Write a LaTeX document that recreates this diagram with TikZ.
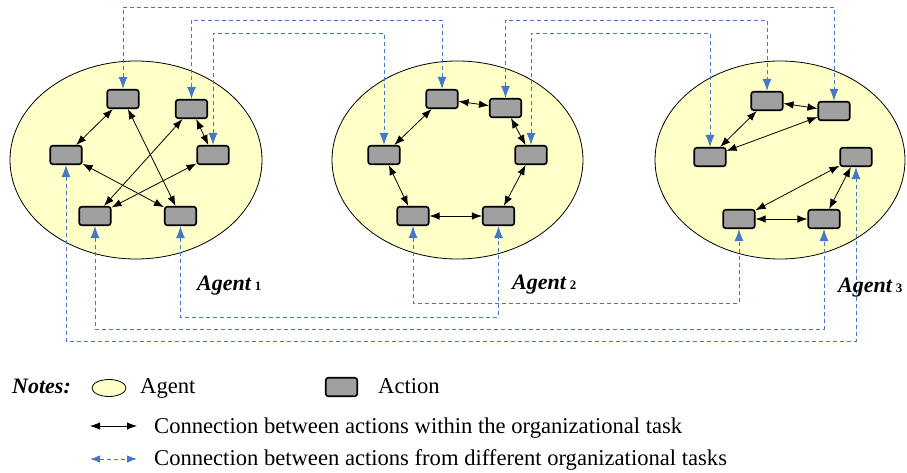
\documentclass[tikz,border=0pt]{standalone}
\usepackage{fontspec}
\setmainfont{Liberation Serif}
\usetikzlibrary{arrows.meta,shapes.geometric}
\definecolor{agentfill}{RGB}{255,255,200}
\definecolor{actfill}{RGB}{160,160,160}
\definecolor{linkblue}{RGB}{70,120,200}
\begin{document}
\begin{tikzpicture}[x=1pt,y=-1pt,
 agentnode/.style={ellipse,draw=black,line width=0.8pt,fill=agentfill,inner sep=0pt},
 act/.style={draw=black,line width=1.6pt,fill=actfill,rounded corners=2.5pt,minimum width=31.5pt,minimum height=18.5pt,inner sep=0pt},
 within/.style={{Latex[length=10pt,width=7.5pt]}-{Latex[length=10pt,width=7.5pt]},line width=0.8pt,draw=black},
 link/.style={{Latex[length=12pt,width=9pt]}-{Latex[length=12pt,width=9pt]},line width=0.9pt,draw=linkblue,dash pattern=on 4pt off 3pt},
 lbl/.style={anchor=base west,inner sep=0pt,font=\fontsize{22}{24}\selectfont\bfseries\itshape},
 txt/.style={anchor=base west,inner sep=0pt,font=\fontsize{22.6}{24}\selectfont}]
\useasboundingbox (0,0) rectangle (907,473);

% agents
\node[agentnode,minimum width=252pt,minimum height=198pt] (ag1) at (136,160) {};
\node[agentnode,minimum width=251pt,minimum height=198pt] (ag2) at (457.5,160) {};
\node[agentnode,minimum width=250pt,minimum height=198pt] (ag3) at (780,160) {};

% actions agent 1
\node[act] (A1a) at (123,99) {};
\node[act] (A1b) at (191.5,109) {};
\node[act] (A1c) at (66,155) {};
\node[act] (A1d) at (213,155) {};
\node[act] (A1e) at (95,216) {};
\node[act] (A1f) at (180.5,216) {};
% actions agent 2
\node[act] (A2a) at (442,99) {};
\node[act] (A2b) at (505.5,108) {};
\node[act] (A2c) at (384,155) {};
\node[act] (A2d) at (531,155) {};
\node[act] (A2e) at (413,216) {};
\node[act] (A2f) at (498.5,216) {};
% actions agent 3
\node[act] (A3a) at (767,101) {};
\node[act] (A3b) at (834,111) {};
\node[act] (A3c) at (710,157) {};
\node[act] (A3d) at (856,157) {};
\node[act] (A3e) at (739,219) {};
\node[act] (A3f) at (824,219) {};

% within-task connections
\draw[within] (A1a) -- (A1c);
\draw[within] (A1a) -- (A1f);
\draw[within] (A1b) -- (A1e);
\draw[within] (A1b) -- (A1d);
\draw[within] (A1c) -- (A1f);
\draw[within] (A1d) -- (A1e);

\draw[within] (A2a) -- (A2b);
\draw[within] (A2b) -- (A2d);
\draw[within] (A2d) -- (A2f);
\draw[within] (A2f) -- (A2e);
\draw[within] (A2e) -- (A2c);
\draw[within] (A2c) -- (A2a);

\draw[within] (A3a) -- (A3b);
\draw[within] (A3a) -- (A3c);
\draw[within] (A3b) -- (A3c);
\draw[within] (A3d) -- (A3e);
\draw[within] (A3d) -- (A3f);
\draw[within] (A3e) -- (A3f);

% routing levels
\coordinate (t1) at (0,7);
\coordinate (t2) at (0,20);
\coordinate (t3) at (0,33);
\coordinate (b1) at (0,303);
\coordinate (b2) at (0,317);
\coordinate (b3) at (0,329);
\coordinate (b4) at (0,341);

% cross-task connections (top)
\draw[link] (A1a.north) -- (A1a.north |- t1) -| (A3b.north);
\draw[link] (A1b.north) -- (A1b.north |- t2) -| (A2a.north);
\draw[link] (A2b.north) -- (A2b.north |- t2) -| (A3a.north);
\draw[link] (A1d.north) -- (A1d.north |- t3) -| (A2c.north);
\draw[link] (A2d.north) -- (A2d.north |- t3) -| (A3c.north);
% cross-task connections (bottom)
\draw[link] (A2e.south) -- (A2e.south |- b1) -| (A3e.south);
\draw[link] (A1f.south) -- (A1f.south |- b2) -| (A2f.south);
\draw[link] (A1e.south) -- (A1e.south |- b3) -| (A3f.south);
\draw[link] (A1c.south) -- (A1c.south |- b4) -| (A3d.south);

% agent labels
\node[lbl] (lab1) at (197,290) {Agent\hspace{4pt}{\upshape\fontsize{13}{13}\selectfont 1}};
\node[lbl] (lab2) at (512,289) {Agent\hspace{4pt}{\upshape\fontsize{13}{13}\selectfont 2}};
\node[lbl] (lab3) at (838,292) {Agent\hspace{4pt}{\upshape\fontsize{13}{13}\selectfont 3}};

% legend
\node[lbl] (notes) at (12,393) {Notes:};
\node[agentnode,minimum width=34pt,minimum height=17pt] (legAgent) at (109,388) {};
\node[txt] (legAgentTxt) at (140,393) {Agent};
\node[act] (legAct) at (341.5,387) {};
\node[txt] (legActTxt) at (378,393) {Action};
\coordinate (l1a) at (90,426);
\coordinate (l1b) at (137,426);
\draw[within] (l1a) -- (l1b);
\node[txt] (legW) at (154,433) {Connection between actions within the organizational task};
\coordinate (l2a) at (90,459);
\coordinate (l2b) at (137,459);
\draw[link,{Latex[length=10pt,width=7.5pt]}-{Latex[length=10pt,width=7.5pt]}] (l2a) -- (l2b);
\node[txt] (legD) at (154,465) {Connection between actions from different organizational tasks};
\end{tikzpicture}
\end{document}
